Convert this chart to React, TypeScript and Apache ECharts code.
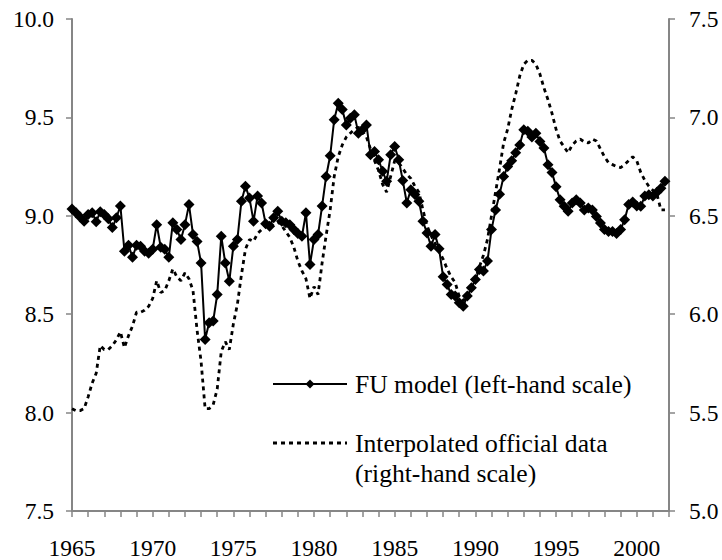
import React, { useEffect, useRef } from "react";
import * as echarts from "echarts";

// First quarter of the sample; one observation per quarter
const START_YEAR = 1965;
const PERIODS_PER_YEAR = 4;

// FU model (left-hand scale)
const fuModel = [
  9.035, 9.015, 8.994, 8.972, 9.006, 9.015, 8.97, 9.02, 9.006, 8.985,
  8.94, 8.99, 9.05, 8.82, 8.85, 8.79, 8.85, 8.845, 8.82, 8.81,
  8.83, 8.955, 8.84, 8.83, 8.79, 8.965, 8.93, 8.88, 8.955, 9.057,
  8.905, 8.87, 8.76, 8.372, 8.457, 8.465, 8.6, 8.896, 8.76, 8.668,
  8.845, 8.88, 9.074, 9.15, 9.09, 8.972, 9.1, 9.065, 8.96, 8.947,
  8.99, 9.023, 8.972, 8.965, 8.955, 8.93, 8.91, 8.896, 9.015, 8.753,
  8.88, 8.905, 9.05, 9.2, 9.305, 9.488, 9.572, 9.54, 9.462, 9.496,
  9.513, 9.42, 9.437, 9.462, 9.31, 9.327, 9.285, 9.226, 9.175, 9.31,
  9.352, 9.285, 9.18, 9.065, 9.133, 9.108, 9.074, 8.972, 8.913, 8.845,
  8.905, 8.832, 8.69, 8.651, 8.6, 8.592, 8.558, 8.541, 8.592, 8.634,
  8.676, 8.727, 8.72, 8.77, 8.93, 9.03, 9.11, 9.2, 9.25, 9.28,
  9.32, 9.36, 9.437, 9.43, 9.4, 9.42, 9.378, 9.344, 9.26, 9.22,
  9.147, 9.082, 9.048, 9.023, 9.065, 9.082, 9.065, 9.03, 9.04, 9.03,
  8.997, 8.964, 8.93, 8.92, 8.92, 8.91, 8.93, 8.98, 9.057, 9.07,
  9.05, 9.048, 9.1, 9.107, 9.1, 9.12, 9.14, 9.175,
];

// Interpolated official data (right-hand scale)
const officialData = [
  5.52, 5.51, 5.51, 5.52, 5.58, 5.65, 5.7, 5.84, 5.82, 5.82,
  5.84, 5.87, 5.91, 5.83, 5.89, 5.94, 6.01, 6.01, 6.02, 6.04,
  6.08, 6.17, 6.11, 6.12, 6.17, 6.23, 6.19, 6.17, 6.21, 6.18,
  6.12, 5.92, 5.76, 5.52, 5.52, 5.54, 5.62, 5.81, 5.86, 5.82,
  5.95, 6.05, 6.2, 6.33, 6.38, 6.37, 6.41, 6.43, 6.45, 6.44,
  6.46, 6.47, 6.45, 6.42, 6.39, 6.34, 6.27, 6.22, 6.18, 6.08,
  6.14, 6.1, 6.26, 6.4, 6.53, 6.7, 6.8, 6.86, 6.9, 6.92,
  6.94, 6.95, 6.93, 6.9, 6.84, 6.78, 6.73, 6.66, 6.62, 6.7,
  6.78, 6.77, 6.74, 6.71, 6.69, 6.65, 6.62, 6.53, 6.45, 6.4,
  6.36, 6.32, 6.28, 6.23, 6.19, 6.16, 6.09, 6.07, 6.09, 6.13,
  6.18, 6.24, 6.3, 6.38, 6.5, 6.62, 6.74, 6.87, 6.94, 7.04,
  7.12, 7.21, 7.27, 7.29, 7.29, 7.27, 7.22, 7.15, 7.09, 7.02,
  6.94, 6.88, 6.85, 6.82, 6.86, 6.88, 6.89, 6.875, 6.87, 6.89,
  6.88, 6.84, 6.8, 6.77, 6.76, 6.75, 6.745, 6.76, 6.78, 6.8,
  6.78, 6.72, 6.68, 6.65, 6.63, 6.61, 6.53, 6.53,
];

const X_MIN = 1965;
const X_MAX = 2002;
const X_LABEL_EVERY = 5;
const LEFT_MIN = 7.5;
const LEFT_MAX = 10.0;
const RIGHT_MIN = 5.0;
const RIGHT_MAX = 7.5;
const Y_STEP = 0.5;

const LEGEND_FU = "FU model (left-hand scale)";
const LEGEND_OFF_1 = "Interpolated official data";
const LEGEND_OFF_2 = "(right-hand scale)";

const FONT = "Liberation Serif";
const AXIS_COLOR = "#868686";

const toPairs = (vals: number[]) =>
  vals.map((v, i) => [START_YEAR + i / PERIODS_PER_YEAR, v]);

export default function App() {
  const ref = useRef<HTMLDivElement>(null);

  useEffect(() => {
    if (!ref.current) return;
    const chart = echarts.init(ref.current, null, { renderer: "svg" });

    const axisLine = { show: true, lineStyle: { color: AXIS_COLOR, width: 2 } };
    const axisTick = { show: true, length: 6, lineStyle: { color: AXIS_COLOR, width: 1.5 } };

    const legendY1 = 384;
    const legendY2 = 443;
    const lx0 = 273;
    const lx1 = 347;
    const tx = 355;
    const LEGEND_SIZE = 25.6;
    const TICK_SIZE = 23.5;

    const legendText = (text: string, y: number) => ({
      type: "text",
      x: tx,
      y,
      style: {
        text,
        fontFamily: FONT,
        fontSize: LEGEND_SIZE,
        fill: "#000",
        verticalAlign: "middle",
      },
    });

    chart.setOption({
      animation: false,
      backgroundColor: "#ffffff",
      textStyle: { fontFamily: FONT },
      grid: { left: 72, right: 53, top: 19, bottom: 48 },
      xAxis: {
        type: "value",
        min: X_MIN,
        max: X_MAX,
        interval: 1,
        axisLine,
        axisTick,
        splitLine: { show: false },
        axisLabel: {
          color: "#000",
          fontFamily: FONT,
          fontSize: TICK_SIZE,
          margin: 25,
          formatter: (v: number) =>
            Math.round(v) % X_LABEL_EVERY === 0 && v < X_MAX ? String(Math.round(v)) : "",
        },
      },
      yAxis: [
        {
          type: "value",
          position: "left",
          min: LEFT_MIN,
          max: LEFT_MAX,
          interval: Y_STEP,
          axisLine,
          axisTick,
          splitLine: { show: false },
          axisLabel: {
            color: "#000",
            fontFamily: FONT,
            fontSize: TICK_SIZE,
            margin: 18,
            formatter: (v: number) => v.toFixed(1),
          },
        },
        {
          type: "value",
          position: "right",
          min: RIGHT_MIN,
          max: RIGHT_MAX,
          interval: Y_STEP,
          axisLine,
          axisTick,
          splitLine: { show: false },
          axisLabel: {
            color: "#000",
            fontFamily: FONT,
            fontSize: TICK_SIZE,
            margin: 20,
            formatter: (v: number) => v.toFixed(1),
          },
        },
      ],
      series: [
        {
          name: LEGEND_OFF_1,
          type: "line",
          yAxisIndex: 1,
          data: toPairs(officialData),
          showSymbol: false,
          symbol: "none",
          lineStyle: { color: "#000", width: 2.8, type: [4, 4] },
          z: 2,
        },
        {
          name: LEGEND_FU,
          type: "line",
          yAxisIndex: 0,
          data: toPairs(fuModel),
          symbol: "diamond",
          symbolSize: 11,
          itemStyle: { color: "#000" },
          lineStyle: { color: "#000", width: 2 },
          z: 3,
        },
      ],
      graphic: [
        {
          type: "line",
          shape: { x1: lx0, y1: legendY1, x2: lx1, y2: legendY1 },
          style: { stroke: "#000", lineWidth: 2 },
        },
        {
          type: "polygon",
          shape: {
            points: [
              [310, legendY1 - 4.5],
              [314.5, legendY1],
              [310, legendY1 + 4.5],
              [305.5, legendY1],
            ],
          },
          style: { fill: "#000" },
        },
        legendText(LEGEND_FU, legendY1),
        {
          type: "line",
          shape: { x1: lx0, y1: legendY2, x2: lx1, y2: legendY2 },
          style: { stroke: "#000", lineWidth: 2.8, lineDash: [4, 4] },
        },
        legendText(LEGEND_OFF_1, legendY2),
        legendText(LEGEND_OFF_2, legendY2 + 30),
      ],
    });

    return () => chart.dispose();
  }, []);

  return (
    <div
      ref={ref}
      style={{ position: "fixed", left: 0, top: 0, width: 722, height: 560, background: "#fff" }}
    />
  );
}
